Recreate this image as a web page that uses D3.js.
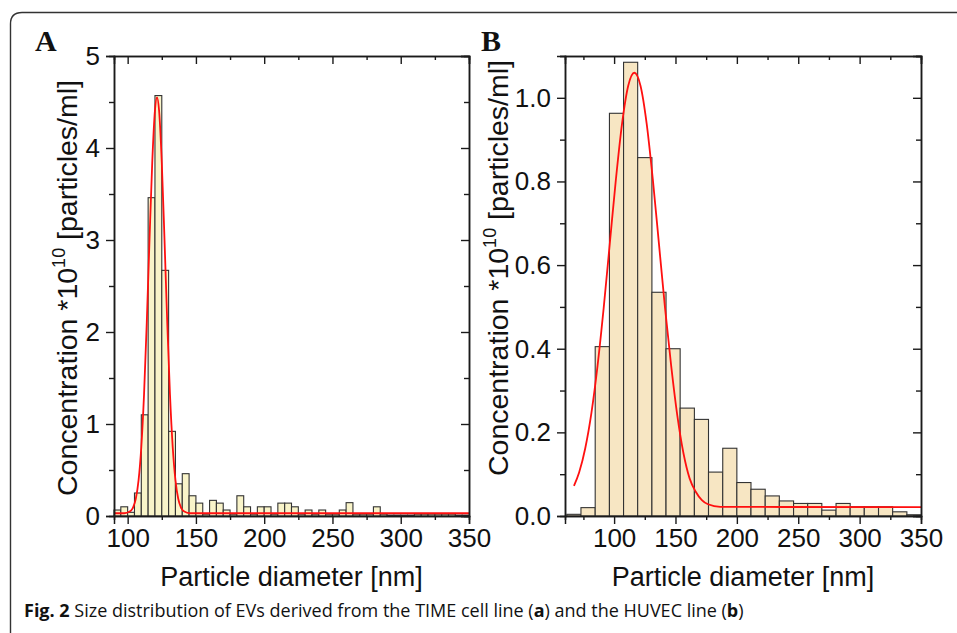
<!DOCTYPE html>
<html>
<head>
<meta charset="utf-8">
<script src="https://cdn.jsdelivr.net/npm/d3@7"></script>
<style>
  body { margin: 0; background: #fff; }
  svg { display: block; }
  text { font-family: "Liberation Sans", Arial, sans-serif; fill: #111; }
</style>
</head>
<body>
<div id="chart"></div>
<script>
// Size distribution histograms (NTA), panel A = TIME, panel B = HUVEC

// Panel A: 5 nm bins, lower edges + the last upper edge
const edgesA = [90, 95, 100, 105, 110, 115, 120, 125, 130, 135, 140, 145, 150, 155, 160,
  165, 170, 175, 180, 185, 190, 195, 200, 205, 210, 215, 220, 225, 230, 235, 240, 245,
  250, 255, 260, 265, 270, 275, 280, 285, 290, 295, 300, 305, 310, 315, 320, 325, 330,
  335, 340, 345, 350];
const valuesA = [0.065, 0.10, 0.04, 0.25, 1.10, 3.46, 4.57, 2.67, 0.92, 0.35, 0.46, 0.22,
  0.14, 0.02, 0.17, 0.14, 0.065, 0.02, 0.22, 0.10, 0.02, 0.10, 0.10, 0.02, 0.14, 0.14,
  0.10, 0.02, 0.065, 0.02, 0.065, 0.02, 0.02, 0.065, 0.145, 0.02, 0.02, 0.02, 0.10, 0.02,
  0.01, 0.01, 0.01, 0.01, 0.02, 0.02, 0.02, 0.02, 0.02, 0.02, 0.01, 0.01];
// fitted curve
const fitA = [[90, 0.03], [97.5, 0.03], [101.5, 0.048], [104, 0.094], [106, 0.19], [108, 0.39],
  [110, 0.75], [112, 1.32], [114, 2.10], [116, 3.00], [118, 3.84], [120, 4.41], [121.5, 4.55],
  [123, 4.41], [125, 3.84], [127, 3.00], [129, 2.10], [131, 1.32], [133, 0.75], [135, 0.39],
  [137, 0.19], [139, 0.094], [141.5, 0.048], [145.5, 0.03], [350, 0.03]];

// Panel B: ~11.5 nm bins
const edgesB = [61.5, 73.0, 84.6, 96.2, 107.7, 119.2, 130.8, 142.3, 153.8, 165.4, 176.9,
  188.5, 200.0, 211.5, 223.1, 234.6, 246.2, 257.7, 269.2, 280.8, 292.3, 303.8, 315.4,
  326.9, 338.5, 350];
const valuesB = [0.004, 0.02, 0.405, 0.963, 1.085, 0.857, 0.535, 0.40, 0.258, 0.231,
  0.105, 0.162, 0.080, 0.064, 0.048, 0.036, 0.030, 0.030, 0.014, 0.030, 0.022, 0.022,
  0.022, 0.010, 0.003];
const fitB = [[67.3, 0.072], [71.5, 0.104], [76.5, 0.162], [81.5, 0.246], [86.5, 0.359],
  [91.5, 0.497], [96.5, 0.652], [101.5, 0.806], [106.5, 0.939], [111.5, 1.029], [116.5, 1.06],
  [121.5, 1.029], [126.5, 0.939], [131.5, 0.806], [136.5, 0.652], [141.5, 0.497],
  [146.5, 0.359], [151.5, 0.24], [156.5, 0.15], [161.5, 0.09], [166.5, 0.058],
  [171.5, 0.038], [176.5, 0.028], [186.5, 0.022], [350, 0.021]];

const xTicks = [100, 150, 200, 250, 300, 350];
const yTicksA = [0, 1, 2, 3, 4, 5];
const yTicksB = [0, 0.2, 0.4, 0.6, 0.8, 1.0];

const caption = ['Fig. 2', ' Size distribution of EVs derived from the TIME cell line (',
  'a', ') and the HUVEC line (', 'b', ')'];

let width = 957, height = 633;

let svg = d3.select('#chart').append('svg')
  .attr('width', width).attr('height', height);

// frame round the figure
svg.append('path')
  .attr('d', 'M10.5,' + height + ' L10.5,24 Q10.5,12.5 22,12.5 L' + width + ',12.5')
  .attr('fill', 'none').attr('stroke', '#333').attr('stroke-width', 1.4);

function drawPanel (cfg) {

  let x = d3.scaleLinear().domain(cfg.xDomain).range([cfg.left, cfg.right]);
  let y = d3.scaleLinear().domain(cfg.yDomain).range([cfg.bottom, cfg.top]);
  let g = svg.append('g');

  let bins = cfg.values.map((v, i) => ({ x0: cfg.edges[i], x1: cfg.edges[i + 1], v: v }));

  g.selectAll('.bar')
    .data(bins)
    .enter().append('rect')
    .attr('class', 'bar')
    .attr('x', d => x(d.x0))
    .attr('width', d => x(d.x1) - x(d.x0))
    .attr('y', d => y(d.v))
    .attr('height', d => y(0) - y(d.v))
    .attr('fill', cfg.fill)
    .attr('stroke', '#333')
    .attr('stroke-width', 1.1);

  let line = d3.line()
    .x(d => x(d[0]))
    .y(d => y(d[1]))
    .curve(d3.curveMonotoneX);

  g.append('path')
    .datum(cfg.fit)
    .attr('d', line)
    .attr('fill', 'none')
    .attr('stroke', '#ff1010')
    .attr('stroke-width', 1.8);

  // axes: left/bottom ticks point out, top/right ones point the same way (in)
  let xMinor = d3.range(cfg.xMinorStart, cfg.xDomain[1], 50);
  let yMinor = cfg.yTicks.slice(0, -1).map((t, i) => (t + cfg.yTicks[i + 1]) / 2);
  if (cfg.yTicks[cfg.yTicks.length - 1] < cfg.yDomain[1]) {
    yMinor.push(cfg.yTicks[cfg.yTicks.length - 1] + cfg.yStep / 2);
  }

  g.append('g').attr('transform', 'translate(0,' + cfg.bottom + ')')
    .call(d3.axisBottom(x).tickValues(xTicks).tickSize(8).tickPadding(5)
      .tickFormat(d3.format('d')));
  g.append('g').attr('transform', 'translate(0,' + cfg.bottom + ')')
    .call(d3.axisBottom(x).tickValues(xMinor).tickSize(4).tickFormat(''));

  g.append('g').attr('transform', 'translate(0,' + cfg.top + ')')
    .call(d3.axisBottom(x).tickValues(xTicks).tickSize(8).tickFormat(''));
  g.append('g').attr('transform', 'translate(0,' + cfg.top + ')')
    .call(d3.axisBottom(x).tickValues(xMinor).tickSize(4).tickFormat(''));

  g.append('g').attr('transform', 'translate(' + cfg.left + ',0)')
    .call(d3.axisLeft(y).tickValues(cfg.yTicks).tickSize(8).tickPadding(6)
      .tickFormat(d3.format(cfg.yFormat)));
  g.append('g').attr('transform', 'translate(' + cfg.left + ',0)')
    .call(d3.axisLeft(y).tickValues(yMinor).tickSize(5).tickFormat(''));

  g.append('g').attr('transform', 'translate(' + cfg.right + ',0)')
    .call(d3.axisLeft(y).tickValues(cfg.yTicks).tickSize(8).tickFormat(''));
  g.append('g').attr('transform', 'translate(' + cfg.right + ',0)')
    .call(d3.axisLeft(y).tickValues(yMinor).tickSize(5).tickFormat(''));

  g.selectAll('.domain').attr('stroke', '#1a1a1a').attr('stroke-width', 1.5);
  g.selectAll('.tick line').attr('stroke', '#1a1a1a').attr('stroke-width', 1.4);
  g.selectAll('.tick text')
    .style('font-family', '"Liberation Sans", Arial, sans-serif')
    .style('font-size', '26px')
    .attr('fill', '#111');

  // axis titles
  g.append('text')
    .attr('x', (cfg.left + cfg.right) / 2)
    .attr('y', 586)
    .attr('text-anchor', 'middle')
    .style('font-size', '27px')
    .text('Particle diameter [nm]');

  let yt = g.append('text')
    .attr('transform', 'translate(' + cfg.yTitleX + ',' + cfg.yTitleY + ') rotate(-90)')
    .attr('text-anchor', 'middle')
    .style('font-size', '28.5px');
  yt.append('tspan').text('Concentration *10');
  yt.append('tspan').attr('dy', -12).style('font-size', '18px').text('10');
  yt.append('tspan').attr('dy', 12).text(' [particles/ml]');

  svg.append('text')
    .attr('x', cfg.letterX)
    .attr('y', 51)
    .style('font-family', '"Liberation Serif", "Times New Roman", serif')
    .style('font-weight', 'bold')
    .style('font-size', '30px')
    .text(cfg.letter);
}

drawPanel({
  letter: 'A', letterX: 35,
  left: 114, right: 469, top: 56, bottom: 516,
  xDomain: [90, 350], yDomain: [0, 5], xMinorStart: 125,
  yTicks: yTicksA, yStep: 1, yFormat: 'd',
  edges: edgesA, values: valuesA, fit: fitA,
  fill: '#f9f4c9',
  yTitleX: 77, yTitleY: 288
});

drawPanel({
  letter: 'B', letterX: 481,
  left: 565, right: 921, top: 56, bottom: 516,
  xDomain: [60, 350], yDomain: [0, 1.1], xMinorStart: 75,
  yTicks: yTicksB, yStep: 0.2, yFormat: '.1f',
  edges: edgesB, values: valuesB, fit: fitB,
  fill: '#f7e6c3',
  yTitleX: 508, yTitleY: 268
});

// caption
let cap = svg.append('text')
  .attr('x', 24)
  .attr('y', 617)
  .style('font-family', '"Open Sans", "Noto Sans", sans-serif')
  .style('font-size', '18px')
  .attr('fill', '#222');
cap.selectAll('tspan')
  .data(caption)
  .enter().append('tspan')
  .style('font-weight', (d, i) => (i === 0 || d === 'a' || d === 'b') ? 'bold' : 'normal')
  .text(d => d);
</script>
</body>
</html>
